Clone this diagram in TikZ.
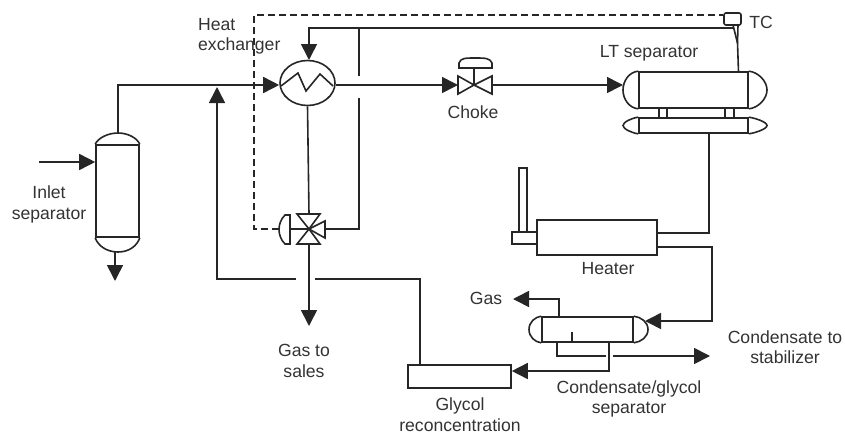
\documentclass[tikz,border=0pt]{standalone}
\usepackage{fontspec}
\setmainfont{Liberation Sans}
\usetikzlibrary{arrows.meta,shapes.geometric}

\tikzset{
  pipe/.style={line width=1.6pt,color=black!85},
  flow/.style={pipe,-{Triangle[length=16pt,width=16pt]}},
  signal/.style={pipe,dash pattern=on 7pt off 4pt},
  equip/.style={pipe,rectangle,draw,fill=white,inner sep=0pt},
  label/.style={color=black!80,align=center,inner sep=0pt,font=\fontsize{17.6}{20.5}\selectfont}
}

\begin{document}
\begin{tikzpicture}[x=1pt,y=-1pt]
  \useasboundingbox (0,0) rectangle (845,434);

  % equipment bodies
  \node[equip,minimum width=43pt,minimum height=92pt] (inlet) at (117.5,191) {};
  \node[equip,ellipse,minimum width=55pt,minimum height=45pt] (hx) at (307.5,83) {};
  \node[equip,minimum width=109pt,minimum height=36pt] (lt) at (693.5,90) {};
  \node[equip,minimum width=109pt,minimum height=15pt] (boot) at (693.5,125.5) {};
  \node[equip,minimum width=120pt,minimum height=35pt] (heater) at (597,237.5) {};
  \node[equip,minimum width=25pt,minimum height=12pt] (burner) at (524.5,238) {};
  \node[equip,minimum width=8pt,minimum height=64pt] (stack) at (523,200) {};
  \node[equip,minimum width=91pt,minimum height=25pt] (cgsep) at (587.5,329.5) {};
  \node[equip,minimum width=103pt,minimum height=23pt] (glycol) at (459.5,376.5) {};
  \node[equip,rounded corners=2pt,minimum width=17pt,minimum height=12pt] (tc) at (732.5,19) {};

  % vessel heads
  \draw[pipe] (inlet.north west) .. controls (98,138) and (108,133) .. (118,133) .. controls (128,133) and (137,138) .. (inlet.north east);
  \draw[pipe] (inlet.south west) .. controls (98,246) and (107,252) .. (118,252) .. controls (129,252) and (137,246) .. (inlet.south east);
  \draw[pipe] (lt.north west) .. controls (629,72) and (623,81) .. (623,90) .. controls (623,99) and (629,108) .. (lt.south west);
  \draw[pipe] (lt.north east) .. controls (758,72) and (767,81) .. (767,90) .. controls (767,99) and (758,108) .. (lt.south east);
  \draw[pipe] (boot.north west) .. controls (632,118) and (623,122) .. (623,125.5) .. controls (623,129) and (632,133) .. (boot.south west);
  \draw[pipe] (boot.north east) .. controls (755,118) and (767,122) .. (767,125.5) .. controls (767,129) and (755,133) .. (boot.south east);
  \draw[pipe] (cgsep.north west) .. controls (535,317) and (529,322) .. (529,329.5) .. controls (529,337) and (535,342) .. (cgsep.south west);
  \draw[pipe] (cgsep.north east) .. controls (641,317) and (648,322) .. (648,329.5) .. controls (648,337) and (641,342) .. (cgsep.south east);

  % saddles between the two LT vessels
  \draw[pipe] (659,108) -- (659,118);
  \draw[pipe] (667,108) -- (667,118);
  \draw[pipe] (725,108) -- (725,118);
  \draw[pipe] (734,108) -- (734,118);

  % coil in the exchanger
  \draw[pipe] (281,86) -- (298,73) -- (306,91) -- (320,74) -- (333,86);

  % choke valve
  \node[inner sep=0pt] (choke) at (474,85) {};
  \coordinate (chokeL) at (458,85);
  \coordinate (chokeR) at (492,85);
  \coordinate (chokeS) at (474,68);
  \draw[pipe] (choke.center) -- (458,76) -- (458,94) -- cycle;
  \draw[pipe] (choke.center) -- (492,76) -- (492,94) -- cycle;
  \draw[pipe] (choke.center) -- (chokeS);
  \draw[pipe] (459,68) -- (492,68) -- (492,63) .. controls (490,58) and (485,58) .. (475,58) .. controls (465,58) and (461,58) .. (459,63) -- cycle;

  % three way valve
  \node[inner sep=0pt] (tv) at (309,229) {};
  \coordinate (tvT) at (309,214);
  \coordinate (tvB) at (309,244);
  \coordinate (tvR) at (325,229);
  \coordinate (tvA) at (279,229);
  \draw[pipe] (tv.center) -- (297,214) -- (320,214) -- cycle;
  \draw[pipe] (tv.center) -- (297,244) -- (320,244) -- cycle;
  \draw[pipe] (tv.center) -- (325,221) -- (325,238) -- cycle;
  \draw[pipe] (tv.center) -- (290,229);
  \draw[pipe] (290,215) -- (290,244) -- (285,244) .. controls (277,236) and (277,223) .. (285,215) -- cycle;

  % junctions and free ends
  \coordinate (feedIn) at (39,162);
  \coordinate (feedTop) at (118,85);
  \coordinate (inletTop) at (118,133);
  \coordinate (drain) at (115,281);
  \coordinate (drainTop) at (115,252);
  \coordinate (bypassTop) at (359,28);
  \coordinate (bypassA) at (359,76);
  \coordinate (bypassB) at (359,98);
  \coordinate (bypassC) at (359,229);
  \coordinate (hxTop) at (309,28);
  \coordinate (hxIn) at (309,60);
  \coordinate (tcTip) at (737.5,43);
  \coordinate (ltTop) at (738.5,72);
  \coordinate (tcLine) at (733,28);
  \coordinate (sales) at (309,326);
  \coordinate (retA) at (420,279);
  \coordinate (retB) at (420,365);
  \coordinate (retC) at (217,279);
  \coordinate (retD) at (217,87);
  \coordinate (gapL) at (296,279);
  \coordinate (gapR) at (315,279);
  \coordinate (sigA) at (254,15);
  \coordinate (sigB) at (254,229);
  \coordinate (bootOut) at (709,133);
  \coordinate (bootC) at (709,233);
  \coordinate (heatOutA) at (712,247);
  \coordinate (heatOutB) at (712,321);
  \coordinate (gasA) at (559,299);
  \coordinate (gasEnd) at (513,299);
  \coordinate (condA) at (557,356);
  \coordinate (condGap) at (606,356);
  \coordinate (condB) at (613,356);
  \coordinate (condEnd) at (710,356);
  \coordinate (glyA) at (609,371);

  % process lines
  \draw[flow] (feedIn) -- (inlet.west |- feedIn);
  \draw[flow] (inletTop) -- (feedTop) -- (hx.west |- feedTop);
  \draw[flow] (drainTop) -- (drain);
  \draw[flow] (hx.east |- feedTop) -- (chokeL);
  \draw[flow] (chokeR) -- (623,85);
  \draw[flow] (tcLine) -- (hxTop) -- (hxIn);
  \draw[pipe] (bypassTop) -- (bypassA);
  \draw[pipe] (bypassB) -- (bypassC) -- (tvR);
  \draw[pipe] (hx.south) -- (tvT);
  \draw[flow] (tvB) -- (sales);
  \draw[pipe] (retB) -- (retA) -- (gapR);
  \draw[flow] (gapL) -- (retC) -- (retD);
  \draw[pipe] (bootOut) -- (bootC) -- (heater.east |- bootC);
  \draw[flow] (heater.east |- heatOutA) -- (heatOutA) -- (heatOutB) -- (645,321);
  \draw[flow] (gasA |- cgsep.north) -- (gasA) -- (gasEnd);
  \draw[pipe] (condA |- cgsep.south) -- (condA) -- (condGap);
  \draw[flow] (condB) -- (condEnd);
  \draw[flow] (glyA |- cgsep.south) -- (glyA) -- (glycol.east |- glyA);
  \draw[pipe] (572,332) -- (572,342);

  % control signal and the TC tap
  \draw[signal] (tvA) -- (sigB) -- (sigA) -- (tc.west |- sigA);
  \draw[pipe] (ltTop) -- (tcTip) -- (733,25);
  \draw[pipe] (tcTip) -- (738,25);

  % labels
  \node[label,align=left,anchor=west] (hxlabel) at (198,36.5) {Heat\\exchanger};
  \node[label] (inletlabel) at (49,204.5) {Inlet\\separator};
  \node[label] (chokelabel) at (473,112) {Choke};
  \node[label] (ltlabel) at (649,53) {LT separator};
  \node[label] (tclabel) at (761,22) {TC};
  \node[label] (heaterlabel) at (608,269) {Heater};
  \node[label] (gaslabel) at (486,298) {Gas};
  \node[label] (saleslabel) at (304,361) {Gas to\\sales};
  \node[label] (glycollabel) at (460,414.5) {Glycol\\reconcentration};
  \node[label] (cglabel) at (629,399) {Condensate/glycol\\separator};
  \node[label] (condlabel) at (785,347) {Condensate to\\stabilizer};
\end{tikzpicture}
\end{document}
